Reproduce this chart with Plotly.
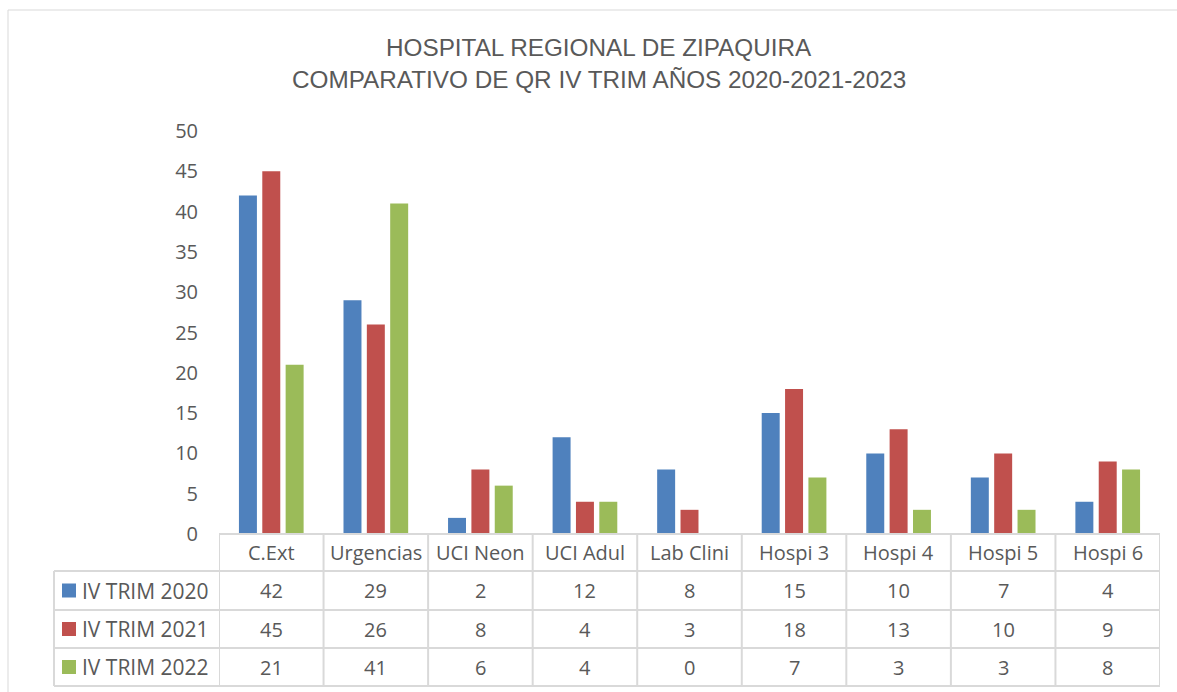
import plotly.graph_objects as go

categories = ["C.Ext", "Urgencias", "UCI Neon", "UCI Adul", "Lab Clini", "Hospi 3", "Hospi 4", "Hospi 5", "Hospi 6"]
series_names = ["IV TRIM 2020", "IV TRIM 2021", "IV TRIM 2022"]
trim_2020 = [42, 29, 2, 12, 8, 15, 10, 7, 4]
trim_2021 = [45, 26, 8, 4, 3, 18, 13, 10, 9]
trim_2022 = [21, 41, 6, 4, 0, 7, 3, 3, 8]
colors = ["#4F81BD", "#C0504D", "#9BBB59"]
y_ticks = [0, 5, 10, 15, 20, 25, 30, 35, 40, 45, 50]

W, H = 1177, 692
def px(x):
    return x / W
def py(y):
    return 1 - y / H

x0, x1 = 219, 1160
ytop, ybot = 131, 534
rows = [534, 571, 610, 648, 686]
tleft = 54

fig = go.Figure()
series = [trim_2020, trim_2021, trim_2022]
for name, vals, c in zip(series_names, series, colors):
    fig.add_trace(go.Bar(x=list(range(len(categories))), y=vals, name=name,
                         marker=dict(color=c, line=dict(width=0))))

grid = "#D9D9D9"
txt = "#595959"
shapes = []
annotations = []
# outer border (top and left edges only, kept within the paper)
shapes.append(dict(type="line", xref="paper", yref="paper", x0=px(8), x1=1, y0=py(10), y1=py(10),
                   line=dict(color="#D9D9D9", width=1)))
shapes.append(dict(type="line", xref="paper", yref="paper", x0=px(8), x1=px(8), y0=py(10), y1=0,
                   line=dict(color="#D9D9D9", width=1)))
# horizontal table lines
shapes.append(dict(type="line", xref="paper", yref="paper", x0=px(x0), x1=px(x1), y0=py(rows[0]), y1=py(rows[0]),
                   line=dict(color=grid, width=2)))
for r in rows[1:]:
    shapes.append(dict(type="line", xref="paper", yref="paper", x0=px(tleft), x1=px(x1), y0=py(r), y1=py(r),
                       line=dict(color=grid, width=2)))
# vertical lines
shapes.append(dict(type="line", xref="paper", yref="paper", x0=px(tleft), x1=px(tleft), y0=py(rows[1]), y1=py(rows[-1]),
                   line=dict(color=grid, width=2)))
n = len(categories)
for i in range(n + 1):
    xv = i - 0.5
    shapes.append(dict(type="line", xref="x", yref="paper", x0=xv, x1=xv, y0=py(rows[0]), y1=py(rows[-1]),
                       line=dict(color=grid, width=2)))

font_tbl = dict(family="Open Sans, sans-serif", size=20, color=txt)
font_leg = dict(family="Open Sans, sans-serif", size=21, color=txt)
for i, cat in enumerate(categories):
    annotations.append(dict(x=i, y=py((rows[0] + rows[1]) / 2), xref="x", yref="paper", text=cat,
                            showarrow=False, font=font_tbl, xanchor="center", yanchor="middle"))
for k, (name, vals, c) in enumerate(zip(series_names, series, colors)):
    yc = py((rows[k + 1] + rows[k + 2]) / 2)
    for i, v in enumerate(vals):
        annotations.append(dict(x=i, y=yc, xref="x", yref="paper", text=str(v),
                                showarrow=False, font=font_tbl, xanchor="center", yanchor="middle"))
    annotations.append(dict(x=px(80), y=yc, xref="paper", yref="paper", text=name,
                            showarrow=False, font=font_leg, xanchor="left", yanchor="middle"))
    shapes.append(dict(type="rect", xref="paper", yref="paper", x0=px(62), x1=px(76),
                       y0=yc - 7 / H, y1=yc + 7 / H, fillcolor=c, line=dict(width=0)))

# title
title_font = dict(family="Liberation Sans, Arial, sans-serif", size=24.3, color=txt)
annotations.append(dict(x=px(599), y=py(47), xref="paper", yref="paper",
                        text="HOSPITAL REGIONAL DE ZIPAQUIRA", showarrow=False,
                        font=title_font, xanchor="center", yanchor="middle"))
annotations.append(dict(x=px(599), y=py(80), xref="paper", yref="paper",
                        text="COMPARATIVO DE QR IV TRIM AÑOS 2020-2021-2023", showarrow=False,
                        font=title_font, xanchor="center", yanchor="middle"))

fig.update_layout(
    width=W, height=H,
    autosize=False,
    margin=dict(l=0, r=0, t=0, b=0, pad=0),
    paper_bgcolor="white", plot_bgcolor="white",
    barmode="group", bargap=0.33, bargroupgap=0.23,
    showlegend=False,
    xaxis=dict(domain=[px(x0), px(x1)], range=[-0.5, n - 0.5], showticklabels=False,
               showgrid=False, zeroline=False, showline=False, ticks="", automargin=False),
    yaxis=dict(domain=[py(ybot), py(ytop)], range=[0, 50], tickvals=y_ticks,
               showgrid=False, zeroline=False, showline=False, ticks="", automargin=False,
               ticklabelstandoff=20,
               tickfont=dict(family="Open Sans, sans-serif", size=20, color=txt)),
    shapes=shapes,
    annotations=annotations,
)

fig.write_html("out.html", config={"responsive": False, "displayModeBar": False},
               post_script="document.body.style.margin='0';document.body.style.overflow='hidden';")
